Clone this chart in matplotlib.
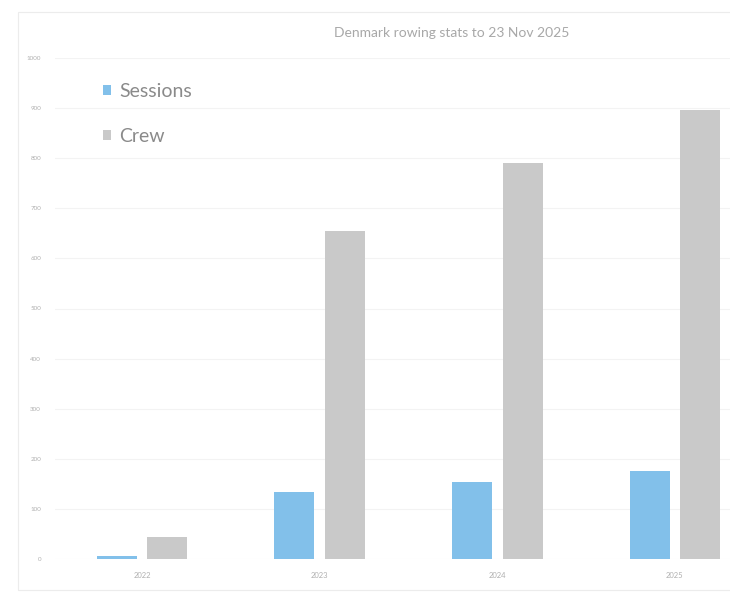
import matplotlib
matplotlib.use("Agg")
import matplotlib.pyplot as plt
import numpy as np
from matplotlib.patches import Rectangle

plt.rcParams["font.family"] = ["Lato", "DejaVu Sans"]

years = ["2022", "2023", "2024", "2025"]
sessions = [6, 134, 154, 176]
crew = [44, 654, 790, 896]
y_ticks = [0, 100, 200, 300, 400, 500, 600, 700, 800, 900, 1000]

SESSIONS_COLOR = "#82c0ea"
CREW_COLOR = "#c9c9c9"
TEXT_COLOR = "#b0b0b0"

fig = plt.figure(figsize=(7.30, 6.11), dpi=100)
fig.patches.append(Rectangle((18 / 730, 21 / 611), 1.0, 578 / 611,
                             transform=fig.transFigure, fill=False,
                             edgecolor="#ececec", linewidth=0.8))

ax = fig.add_axes([55 / 730, 52 / 611, 675 / 730, 501 / 611])
x = np.arange(len(years))
width = 0.225
offset = 0.143
ax.bar(x - offset, sessions, width, color=SESSIONS_COLOR, label="Sessions", zorder=3)
ax.bar(x + offset, crew, width, color=CREW_COLOR, label="Crew", zorder=3)

ax.set_xlim(-0.49, 3.31)
ax.set_ylim(0, 1000)
ax.set_yticks(y_ticks)
ax.set_yticklabels([str(v) for v in y_ticks], fontsize=4.5, color=TEXT_COLOR)
ax.set_xticks(x)
ax.set_xticklabels(years, fontsize=5.5, color=TEXT_COLOR)
ax.tick_params(length=0, pad=10)
ax.tick_params(axis="x", pad=9)
ax.grid(axis="y", color="#f3f3f3", linewidth=0.8, zorder=0)
for s in ax.spines.values():
    s.set_visible(False)

leg = ax.legend(loc="upper left", bbox_to_anchor=(0.045, 0.985), frameon=False,
                fontsize=14, labelcolor="#8a8a8a", handlelength=0.4,
                handleheight=0.4, handletextpad=0.45, labelspacing=1.45)

fig.text(452 / 730, 1 - 33 / 611, "Denmark rowing stats to 23 Nov 2025",
         ha="center", va="center", fontsize=10, color="#a8a8a8")

fig.savefig("out.png", dpi=100)
